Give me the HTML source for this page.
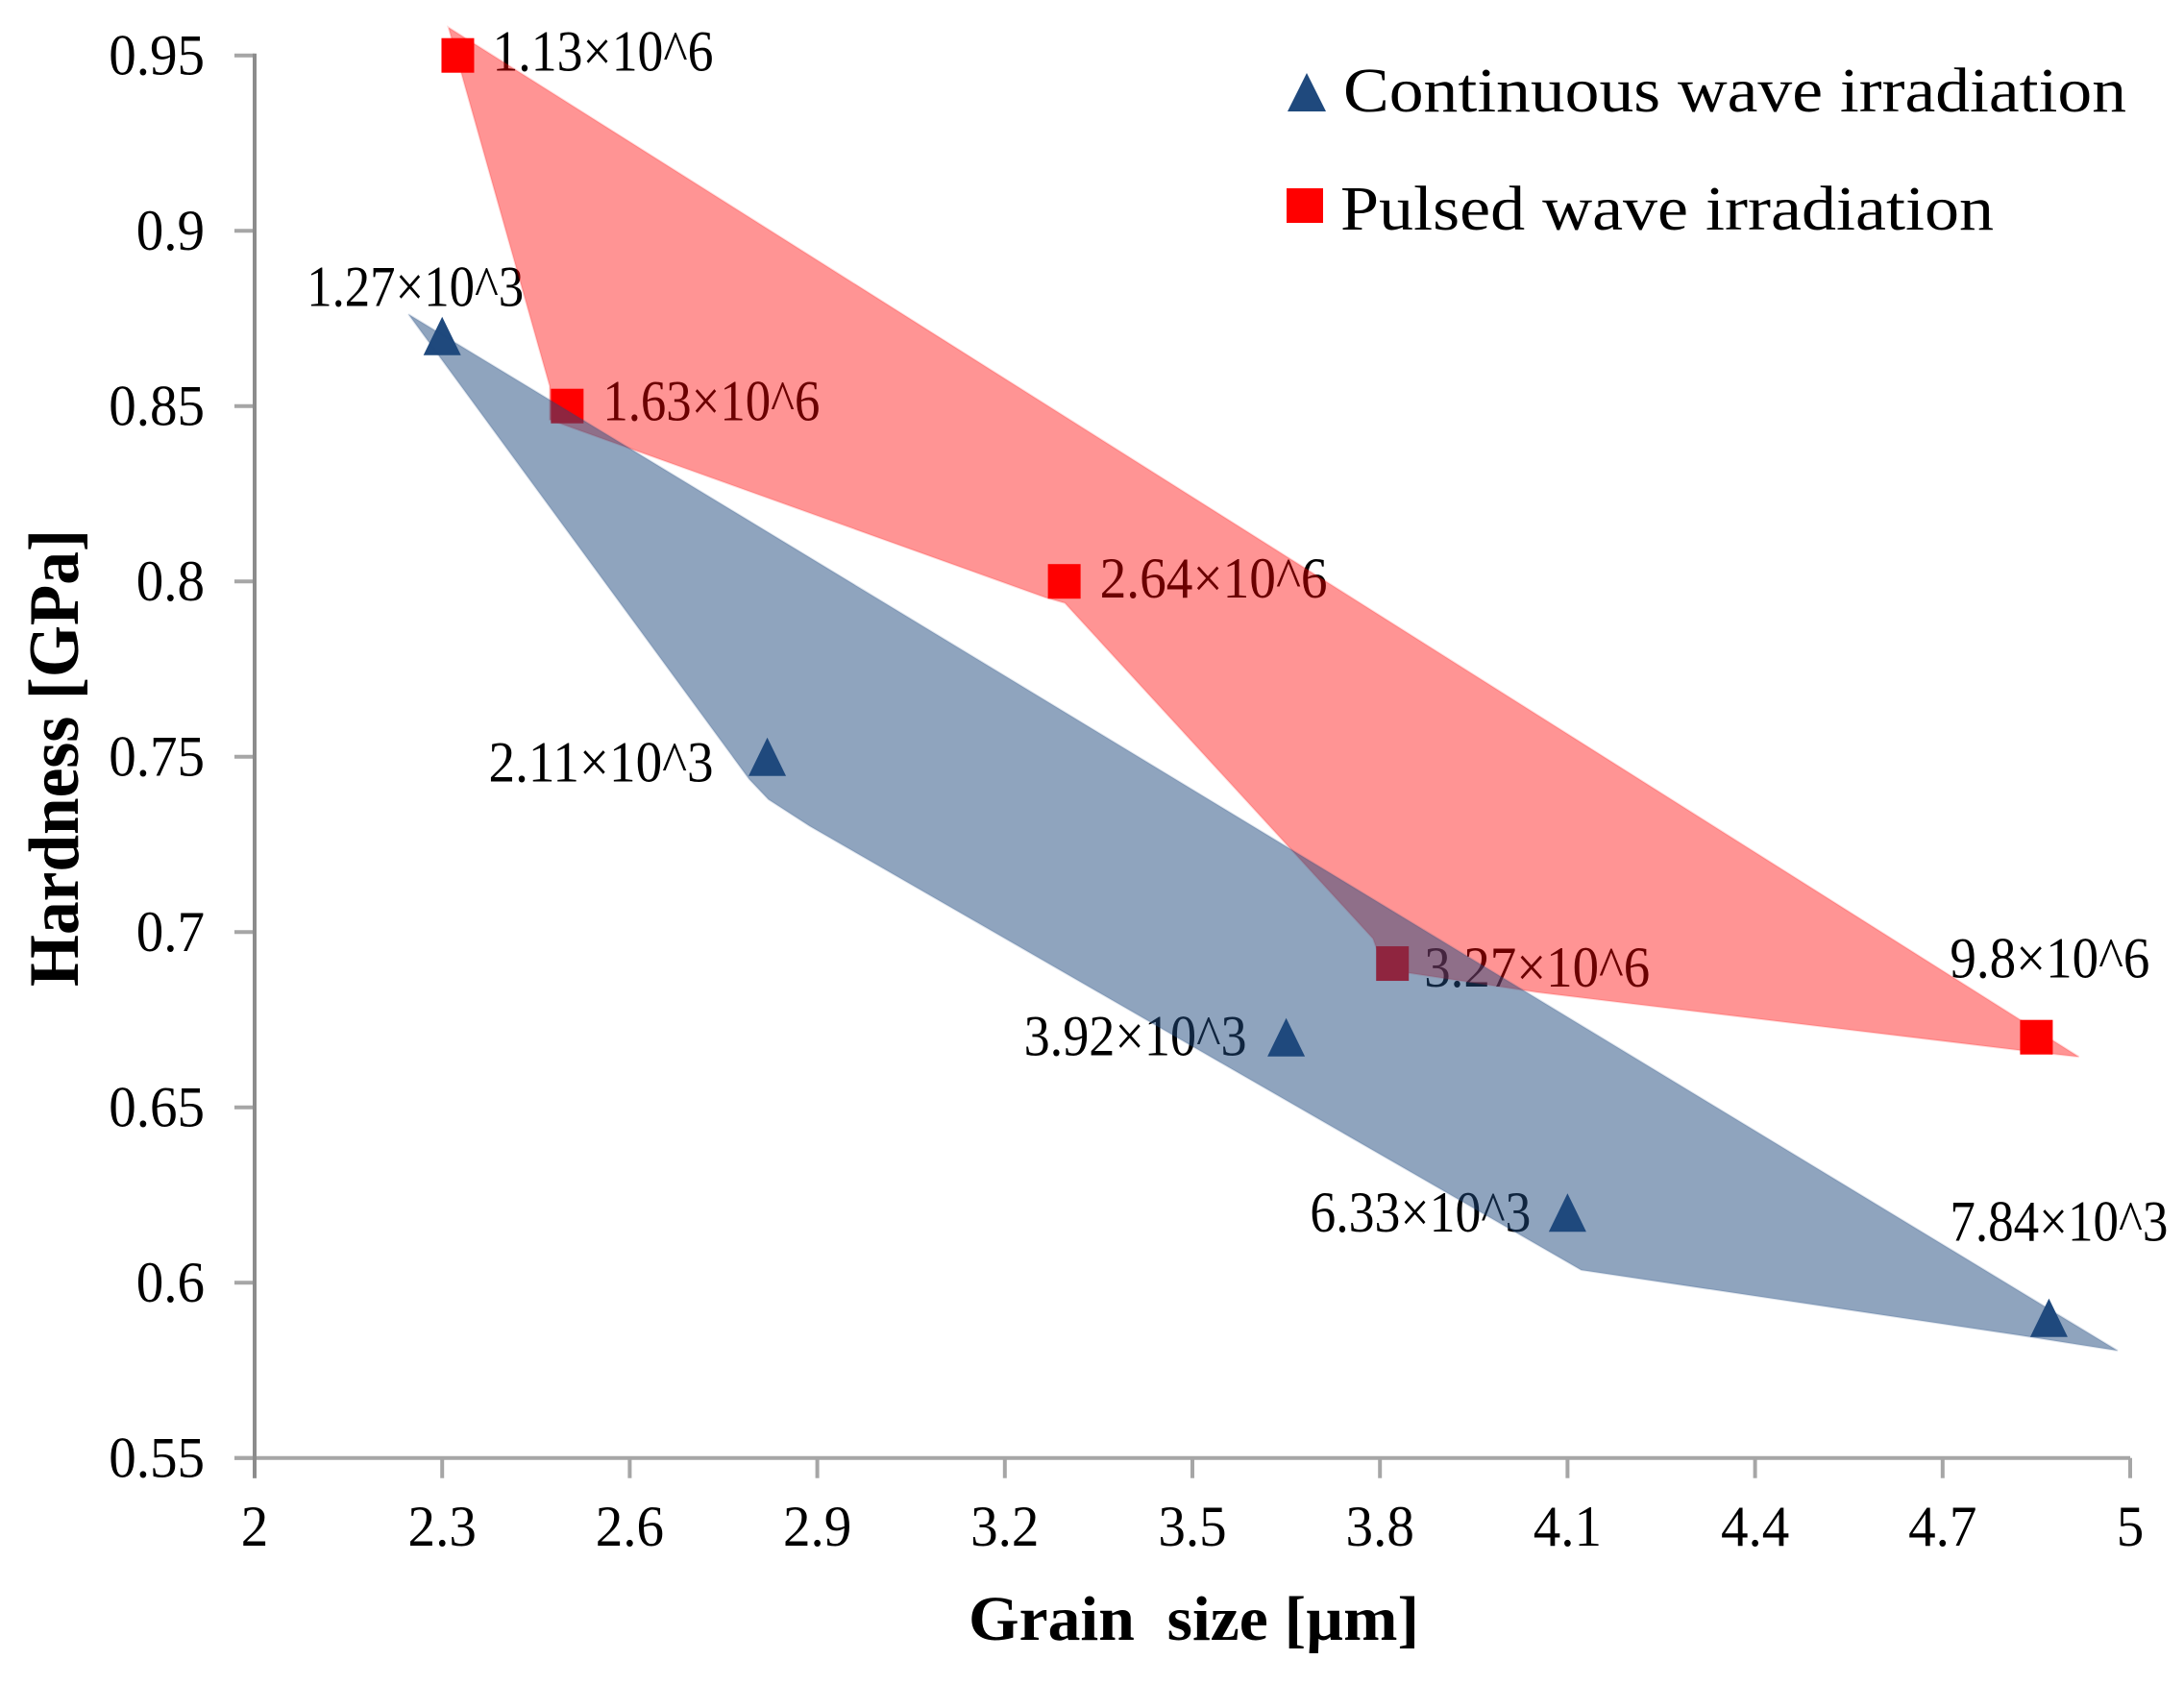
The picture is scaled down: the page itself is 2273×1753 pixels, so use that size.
<!DOCTYPE html>
<html lang="en">
<head>
<meta charset="utf-8">
<title>Hardness vs grain size</title>
<style>
html,body{margin:0;padding:0;background:#fff;}
svg{display:block;}
text{font-family:"Liberation Serif",serif;fill:#000;white-space:pre;}
</style>
</head>
<body>
<svg id="chart" xmlns="http://www.w3.org/2000/svg" width="2273" height="1753" viewBox="0 0 2273 1753">
  <rect x="0" y="0" width="2273" height="1753" fill="#fff"/>
  <g id="axes"></g>
  <g id="labels"></g>
  <g id="markers"></g>
  <g id="bands"></g>
  <text x="1008" y="1707" font-size="66" font-weight="bold" textLength="469" lengthAdjust="spacingAndGlyphs">Grain  size [µm]</text>
  <text transform="translate(81,1027) rotate(-90)" font-size="74" font-weight="bold" textLength="476" lengthAdjust="spacingAndGlyphs">Hardness [GPa]</text>
  <g>
    <g>
      <polygon points="1360,76 1340,116 1380,116" fill="#1F497D"/>
      <text x="1398" y="116" font-size="66" textLength="815" lengthAdjust="spacingAndGlyphs">Continuous wave irradiation</text>
    </g>
    <g>
      <rect x="1339" y="196" width="38" height="36" fill="#FF0000"/>
      <text x="1395" y="239" font-size="66" textLength="680" lengthAdjust="spacingAndGlyphs">Pulsed wave irradiation</text>
    </g>
  </g>
</svg>
<script>
// ---- chart data ----
const xTickValues = [2, 2.3, 2.6, 2.9, 3.2, 3.5, 3.8, 4.1, 4.4, 4.7, 5];
const xTickLabels = ["2", "2.3", "2.6", "2.9", "3.2", "3.5", "3.8", "4.1", "4.4", "4.7", "5"];
const yTickValues = [0.55, 0.6, 0.65, 0.7, 0.75, 0.8, 0.85, 0.9, 0.95];
const yTickLabels = ["0.55", "0.6", "0.65", "0.7", "0.75", "0.8", "0.85", "0.9", "0.95"];

const continuousGrain = [2.3, 2.82, 3.65, 4.1, 4.87];
const continuousHardness = [0.87, 0.75, 0.67, 0.62, 0.59];
const continuousLabels = ["1.27×10^3", "2.11×10^3", "3.92×10^3", "6.33×10^3", "7.84×10^3"];

const pulsedGrain = [2.325, 2.5, 3.295, 3.82, 4.85];
const pulsedHardness = [0.95, 0.85, 0.8, 0.691, 0.67];
const pulsedLabels = ["1.13×10^6", "1.63×10^6", "2.64×10^6", "3.27×10^6", "9.8×10^6"];

const pulsedBandGrain = [2.31, 4.918, 4.823, 4.052, 3.847, 3.806, 3.789, 3.296, 3.265, 2.472, 2.472];
const pulsedBandHardness = [0.958, 0.6644, 0.6663, 0.6828, 0.6883, 0.6896, 0.6981, 0.7938, 0.7954, 0.8461, 0.8557];

const continuousBandGrain = [2.246, 4.98, 4.823, 4.122, 2.888, 2.822, 2.791];
const continuousBandHardness = [0.8762, 0.5806, 0.585, 0.6036, 0.7302, 0.7378, 0.7436];

// ---- label layout (not data) ----
const continuousLabelLayout = [[-141, -31, 226], [-290, 26, 234], [-273, 19, 232], [-268, 20, 230], [-103, -80, 227]];
const pulsedLabelLayout = [[36, 16, 230], [37, 15, 226], [37, 17, 237], [33, 24, 235], [-90, -62, 208]];

// ---- axis functions ----
const xMin = 2, xMax = 5, yMin = 0.55, yMax = 0.95;
const plotLeft = 265, plotRight = 2217, plotTop = 57.7, plotBottom = 1517.7;
function xScale(v) { return plotLeft + (v - xMin) / (xMax - xMin) * (plotRight - plotLeft); }
function yScale(v) { return plotBottom - (v - yMin) / (yMax - yMin) * (plotBottom - plotTop); }

const NS = "http://www.w3.org/2000/svg";
function mk(parent, tag, props) {
  const el = document.createElementNS(NS, tag);
  for (const k in props) el.setAttribute(k, props[k]);
  parent.appendChild(el);
  return el;
}
function squeeze(el, factor) {
  const natural = el.getComputedTextLength();
  el.setAttribute("textLength", (natural * factor).toFixed(1));
  el.setAttribute("lengthAdjust", "spacingAndGlyphs");
}
function pointsOf(xs, ys) {
  return xs.map(function (v, i) { return xScale(v).toFixed(1) + "," + yScale(ys[i]).toFixed(1); }).join(" ");
}

const axes = document.getElementById("axes");
const labels = document.getElementById("labels");
const markers = document.getElementById("markers");
const bands = document.getElementById("bands");

// x axis
const xAxisLine = mk(axes, "line", { x1: plotLeft - 21, x2: plotRight, y1: plotBottom, y2: plotBottom, stroke: "#a6a6a6", "stroke-width": 4 });



xTickValues.forEach(function (v, i) {
  const tick = mk(axes, "line", { x1: xScale(v), x2: xScale(v), y1: plotBottom, y2: plotBottom + 21, stroke: "#a6a6a6", "stroke-width": 4 });
  
  
  const t = mk(axes, "text", { x: xScale(v), y: 1609, "font-size": 60, "text-anchor": "middle" });
  t.textContent = xTickLabels[i];
  
  
  squeeze(t, 0.95);
});

// y axis
yTickValues.forEach(function (v, i) {
  const tick = mk(axes, "line", { x1: plotLeft - 21, x2: plotLeft, y1: yScale(v), y2: yScale(v), stroke: "#a6a6a6", "stroke-width": 4 });
  
  
  const t = mk(axes, "text", { x: 213, y: yScale(v) + 20, "font-size": 60, "text-anchor": "end" });
  t.textContent = yTickLabels[i];
  
  
  squeeze(t, 0.95);
});
const yAxisLine = mk(axes, "line", { x1: plotLeft, x2: plotLeft, y1: plotTop - 2, y2: plotBottom + 21, stroke: "#8c8c8c", "stroke-width": 4 });



// point labels (drawn beneath the translucent bands)
continuousLabels.forEach(function (s, i) {
  const off = continuousLabelLayout[i];
  const t = mk(labels, "text", { x: xScale(continuousGrain[i]) + off[0], y: yScale(continuousHardness[i]) + off[1], "font-size": 60, textLength: off[2], lengthAdjust: "spacingAndGlyphs" });
  t.textContent = s;
  
  
});
pulsedLabels.forEach(function (s, i) {
  const off = pulsedLabelLayout[i];
  const t = mk(labels, "text", { x: xScale(pulsedGrain[i]) + off[0], y: yScale(pulsedHardness[i]) + off[1], "font-size": 60, textLength: off[2], lengthAdjust: "spacingAndGlyphs" });
  t.textContent = s;
  
  
});

// markers
pulsedGrain.forEach(function (v, i) {
  const cx = xScale(v), cy = yScale(pulsedHardness[i]);
  const sq = mk(markers, "rect", { x: cx - 17, y: cy - 18, width: 34, height: 36, fill: "#FF0000" });
  
  
});
continuousGrain.forEach(function (v, i) {
  const cx = xScale(v), cy = yScale(continuousHardness[i]);
  const tri = mk(markers, "polygon", { points: cx + "," + (cy - 20) + " " + (cx - 19.5) + "," + (cy + 20) + " " + (cx + 19.5) + "," + (cy + 20), fill: "#1F497D" });
  
  
});

// shaded bands
const pulsedBand = mk(bands, "polygon", { points: pointsOf(pulsedBandGrain, pulsedBandHardness), fill: "#FF0000", "fill-opacity": 0.42, stroke: "#FF0000", "stroke-opacity": 0.14, "stroke-width": 2 });


const continuousBand = mk(bands, "polygon", { points: pointsOf(continuousBandGrain, continuousBandHardness), fill: "#1F497D", "fill-opacity": 0.5, stroke: "#1F497D", "stroke-opacity": 0.14, "stroke-width": 2 });


</script>
</body>
</html>
